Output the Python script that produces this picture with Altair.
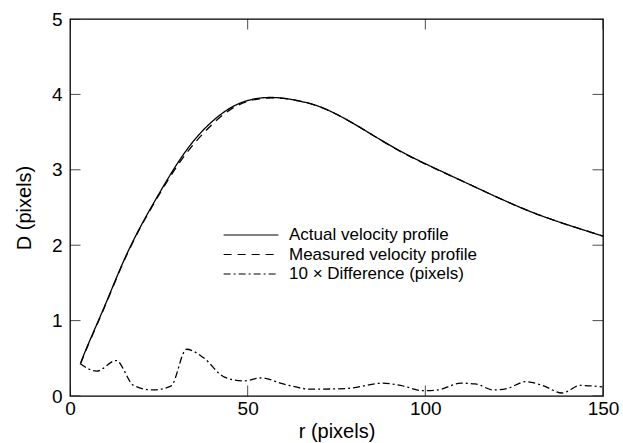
import altair as alt
import pandas as pd

# ---- data ----
r_profile = [3, 5, 10, 15, 20, 25, 30, 35, 40, 45, 50, 55, 60, 65, 70, 75, 80, 85,
             90, 95, 100, 105, 110, 115, 120, 125, 130, 135, 140, 145, 150]
actual = [0.44, 0.68, 1.21, 1.80, 2.27, 2.68, 3.08, 3.41, 3.65, 3.83, 3.93, 3.965, 3.955,
          3.91, 3.85, 3.74, 3.61, 3.465, 3.325, 3.195, 3.08, 2.97, 2.86, 2.75, 2.64, 2.535,
          2.435, 2.35, 2.27, 2.195, 2.12]
measured = [0.43, 0.67, 1.20, 1.79, 2.26, 2.67, 3.05, 3.36, 3.61, 3.81, 3.92, 3.955, 3.955,
            3.91, 3.85, 3.74, 3.61, 3.465, 3.32, 3.19, 3.075, 2.965, 2.86, 2.75, 2.64, 2.535,
            2.435, 2.35, 2.27, 2.195, 2.12]
r_diff = [2.8, 7.5, 13.0, 17.9, 23.3, 28.4, 32.8, 37.5, 43.5, 48.8, 53.9, 60, 68, 78, 88,
          93, 99.5, 103.5, 110, 114, 119.3, 123, 128.3, 133, 138.5, 143.6, 149.7]
diff10 = [0.43, 0.33, 0.47, 0.14, 0.08, 0.13, 0.62, 0.51, 0.25, 0.20, 0.24, 0.16, 0.09,
          0.10, 0.17, 0.14, 0.07, 0.08, 0.17, 0.16, 0.08, 0.10, 0.19, 0.14, 0.04, 0.14, 0.12]

series_names = ["Actual velocity profile", "Measured velocity profile",
                "10 \u00d7 Difference (pixels)"]
x_ticks = [0, 50, 100, 150]
y_ticks = [0, 1, 2, 3, 4, 5]

prof_rows = []
for r, v in zip(r_profile, actual):
    prof_rows.append({"r": r, "D": v, "series": series_names[0]})
for r, v in zip(r_profile, measured):
    prof_rows.append({"r": r, "D": v, "series": series_names[1]})
diff_rows = [{"r": r, "D": v, "series": series_names[2]} for r, v in zip(r_diff, diff10)]
df_prof = pd.DataFrame(prof_rows)
df_diff = pd.DataFrame(diff_rows)

FONT = "Liberation Sans"
xscale = alt.Scale(domain=[0, 150], nice=False, zero=False)
yscale = alt.Scale(domain=[0, 5], nice=False, zero=False)

x_enc = alt.X("r:Q", scale=xscale,
              axis=alt.Axis(title="r (pixels)", values=x_ticks, ticks=False, domain=False,
                            grid=False, labelFontSize=19, labelPadding=3, titleFontSize=20,
                            titleFontWeight="normal", titlePadding=3, labelFont=FONT,
                            titleFont=FONT, labelColor="black", titleColor="black",
                            labelFlush=False, format="d"))
y_enc = alt.Y("D:Q", scale=yscale,
              axis=alt.Axis(title="D (pixels)", values=y_ticks, ticks=False, domain=False,
                            grid=False, labelFontSize=19, labelPadding=8, titleFontSize=20,
                            titleFontWeight="normal", titlePadding=17, labelFont=FONT,
                            titleFont=FONT, labelColor="black", titleColor="black",
                            labelFlush=False, format="d"))
dash_enc = alt.StrokeDash(
    "series:N",
    scale=alt.Scale(domain=series_names, range=[[1, 0], [8, 6], [7, 3, 2, 3]]),
    sort=series_names,
    legend=alt.Legend(title=None, orient="none", legendX=153, legendY=208,
                      symbolType="stroke", symbolSize=3000, symbolStrokeWidth=1.2,
                      symbolStrokeColor="black", labelFontSize=17, labelFont=FONT,
                      labelColor="black", labelOffset=10, rowPadding=2.5,
                      clipHeight=16, labelLimit=400))

profiles = alt.Chart(df_prof).mark_line(color="black", strokeWidth=1.3,
                                        interpolate="basis").encode(
    x=x_enc, y=y_enc, strokeDash=dash_enc)
difference = alt.Chart(df_diff).mark_line(color="black", strokeWidth=1.3,
                                          interpolate="monotone").encode(
    x=x_enc, y=y_enc, strokeDash=dash_enc)

# inward tick marks, clipped to the plot area
xt = pd.DataFrame({"r": x_ticks})
yt = pd.DataFrame({"D": y_ticks})
bottom_ticks = alt.Chart(xt).mark_tick(color="black", size=21, thickness=1, clip=True,
                                       orient="vertical").encode(
    x=alt.X("r:Q", scale=xscale), y=alt.datum(0, scale=yscale))
top_ticks = alt.Chart(xt).mark_tick(color="black", size=21, thickness=1, clip=True,
                                    orient="vertical").encode(
    x=alt.X("r:Q", scale=xscale), y=alt.datum(5, scale=yscale))
left_ticks = alt.Chart(yt).mark_tick(color="black", size=21, thickness=1, clip=True,
                                     orient="horizontal").encode(
    y=alt.Y("D:Q", scale=yscale), x=alt.datum(0, scale=xscale))
right_ticks = alt.Chart(yt).mark_tick(color="black", size=21, thickness=1, clip=True,
                                      orient="horizontal").encode(
    y=alt.Y("D:Q", scale=yscale), x=alt.datum(150, scale=xscale))

chart = alt.layer(profiles, difference, bottom_ticks, top_ticks, left_ticks,
                  right_ticks).properties(
    width=533, height=377,
    padding={"left": 70, "top": 19, "right": 20, "bottom": 47},
    autosize=alt.AutoSizeParams(type="none"),
    background="white",
).configure_view(stroke="black", strokeWidth=1.3)

chart.save("out.html", embed_options={"renderer": "svg", "actions": False})
